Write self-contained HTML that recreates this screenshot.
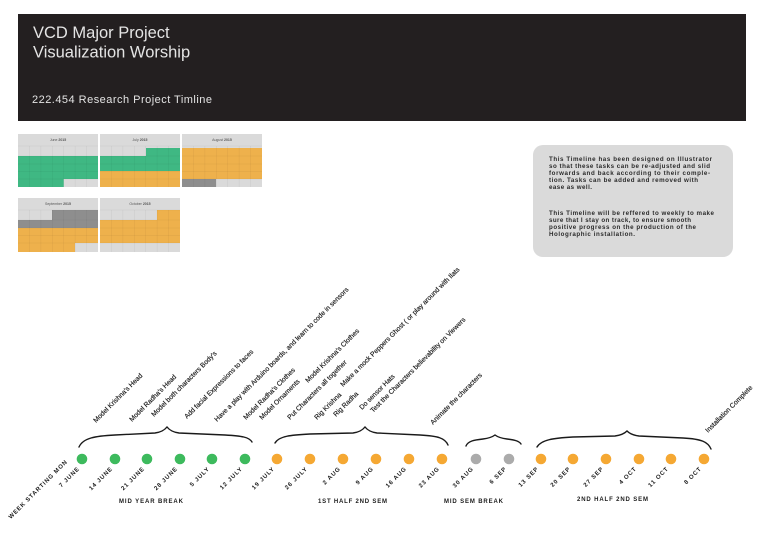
<!DOCTYPE html>
<html><head><meta charset="utf-8"><style>
html,body{margin:0;padding:0;background:#fff;}
svg{display:block;}
text{font-family:"Liberation Sans",Arial,sans-serif;}
</style></head><body>
<svg width="768" height="543" viewBox="0 0 768 543" xmlns="http://www.w3.org/2000/svg">
<rect width="768" height="543" fill="#fff"/>
<!-- header -->
<rect x="18" y="14" width="728" height="107" fill="#231f20"/>
<text x="33" y="38" font-size="16.5" fill="#e4e4e4">VCD Major Project</text>
<text x="33" y="57.5" font-size="16.5" fill="#e4e4e4">Visualization Worship</text>
<text x="32" y="103" font-size="11" fill="#e4e4e4" textLength="180" lengthAdjust="spacing">222.454  Research Project Timline</text>

<!-- calendars -->
<g>
<rect x="18" y="134" width="80" height="53" fill="#dadada"/>
<rect x="18" y="156" width="80" height="23" fill="#3fb883"/>
<rect x="18" y="179" width="45.7" height="8" fill="#3fb883"/>
<rect x="100" y="134" width="80" height="53" fill="#dadada"/>
<rect x="146" y="148" width="34" height="8" fill="#3fb883"/>
<rect x="100" y="156" width="80" height="15" fill="#3fb883"/>
<rect x="100" y="171" width="80" height="16" fill="#eeb14c"/>
<rect x="182" y="134" width="80" height="53" fill="#dadada"/>
<rect x="182" y="148" width="80" height="31" fill="#eeb14c"/>
<rect x="182" y="179" width="34" height="8" fill="#8e8e8e"/>
<rect x="18" y="198" width="80" height="54" fill="#dadada"/>
<rect x="52" y="210" width="46" height="10" fill="#8e8e8e"/>
<rect x="18" y="220" width="80" height="8" fill="#8e8e8e"/>
<rect x="18" y="228" width="80" height="15" fill="#eeb14c"/>
<rect x="18" y="243" width="57" height="9" fill="#eeb14c"/>
<rect x="100" y="198" width="80" height="54" fill="#dadada"/>
<rect x="157" y="210" width="23" height="10" fill="#eeb14c"/>
<rect x="100" y="220" width="80" height="23" fill="#eeb14c"/>
<g stroke="#000" stroke-opacity="0.07" stroke-width="0.5">
<path d="M18 146H98M18 156H98M18 164H98M18 171.5H98M18 179H98"/>
<path d="M100 146H180M100 156H180M100 164H180M100 171.5H180M100 179H180"/>
<path d="M182 146H262M182 156H262M182 164H262M182 171.5H262M182 179H262"/>
<path d="M18 210H98M18 220H98M18 228H98M18 235.5H98M18 243H98"/>
<path d="M100 210H180M100 220H180M100 228H180M100 235.5H180M100 243H180"/>
<path d="M29.4 146V187M40.9 146V187M52.3 146V187M63.7 146V187M75.1 146V187M86.6 146V187"/>
<path d="M111.4 146V187M122.9 146V187M134.3 146V187M145.7 146V187M157.1 146V187M168.6 146V187"/>
<path d="M193.4 146V187M204.9 146V187M216.3 146V187M227.7 146V187M239.1 146V187M250.6 146V187"/>
<path d="M29.4 210V252M40.9 210V252M52.3 210V252M63.7 210V252M75.1 210V252M86.6 210V252"/>
<path d="M111.4 210V252M122.9 210V252M134.3 210V252M145.7 210V252M157.1 210V252M168.6 210V252"/>
</g>
<g font-size="3.5" fill="#555" text-anchor="middle">
<text x="58" y="141">June <tspan font-weight="bold">2015</tspan></text>
<text x="140" y="141">July <tspan font-weight="bold">2015</tspan></text>
<text x="222" y="141">August <tspan font-weight="bold">2015</tspan></text>
<text x="58" y="205">September <tspan font-weight="bold">2015</tspan></text>
<text x="140" y="205">October <tspan font-weight="bold">2015</tspan></text>
</g>
</g>

<!-- info box -->
<rect x="533" y="145" width="200" height="112" rx="10" ry="10" fill="#dadada"/>
<g font-size="6.2" font-weight="bold" fill="#2a2a2a">
<text x="549" y="161" textLength="163" lengthAdjust="spacing">This Timeline has been designed on Illustrator</text>
<text x="549" y="168" textLength="161" lengthAdjust="spacing">so that these tasks can be re-adjusted and slid</text>
<text x="549" y="175" textLength="161" lengthAdjust="spacing">forwards and back according to their comple-</text>
<text x="549" y="182" textLength="149" lengthAdjust="spacing">tion. Tasks can be added and removed with</text>
<text x="549" y="189" textLength="43" lengthAdjust="spacing">ease as well.</text>
<text x="549" y="215" textLength="165" lengthAdjust="spacing">This Timeline will be reffered to weekly to make</text>
<text x="549" y="222" textLength="142" lengthAdjust="spacing">sure that I stay on track, to ensure smooth</text>
<text x="549" y="229" textLength="147" lengthAdjust="spacing">positive progress on the production of the</text>
<text x="549" y="236" textLength="86" lengthAdjust="spacing">Holographic installation.</text>
</g>

<!-- task labels -->
<g font-size="6.8" fill="#1c1c1c" stroke="#1c1c1c" stroke-width="0.18">
<text transform="translate(96,423) rotate(-45)">Model Krishna's Head</text>
<text transform="translate(132,422) rotate(-45)">Model Radha's Head</text>
<text transform="translate(154,417) rotate(-45)">Model both characters Body's</text>
<text transform="translate(187,419) rotate(-45)">Add facial Expressions to faces</text>
<text transform="translate(217,422) rotate(-45)">Have a play with Arduino boards, and learn to code in sensors</text>
<text transform="translate(246,420) rotate(-45)">Model Radha's Clothes</text>
<text transform="translate(262,420) rotate(-45)">Model Ornaments</text>
<text transform="translate(308,383) rotate(-45)">Model Krishna's Clothes</text>
<text transform="translate(290,420) rotate(-45)">Put Characters all together</text>
<text transform="translate(317,420) rotate(-45)">Rig Krishna</text>
<text transform="translate(343,387) rotate(-45)">Make a mock Peppers Ghost ( or play around with Ilats</text>
<text transform="translate(336,417) rotate(-45)">Rig Radha</text>
<text transform="translate(362,410) rotate(-45)">Do sensor Hats</text>
<text transform="translate(373,413) rotate(-45)">Test the Characters believability on Viewers</text>
<text transform="translate(433,425) rotate(-45)">Animate the characters</text>
<text transform="translate(708,433) rotate(-45)">Installation Complete</text>
</g>

<!-- braces -->
<g fill="none" stroke="#1a1a1a" stroke-width="1.4" stroke-linecap="round">
<path d="M79 447 C83 438, 95 436, 115 435 L155 433 Q163 432 167 427 Q171 432 179 433 L225 435 C242 436, 249 437, 252 442"/>
<path d="M275 443 C279 436, 291 435, 310 434 L353 433 Q361 432 365 427 Q369 432 377 433 L420 435 C438 436, 445 438, 448 445"/>
<path d="M466 446 C468 441, 474 440, 483 439 Q491 438 495 435 Q499 438 507 439 C515 440, 519 441, 521 444"/>
<path d="M537 447 C541 440, 553 438, 573 437 L615 436 Q623 435 627 431 Q631 435 639 436 L683 438 C702 439, 708 442, 711 449"/>
</g>

<!-- dots -->
<g>
<circle cx="82" cy="459" r="5.3" fill="#3dba5d"/>
<circle cx="115" cy="459" r="5.3" fill="#3dba5d"/>
<circle cx="147" cy="459" r="5.3" fill="#3dba5d"/>
<circle cx="180" cy="459" r="5.3" fill="#3dba5d"/>
<circle cx="212" cy="459" r="5.3" fill="#3dba5d"/>
<circle cx="245" cy="459" r="5.3" fill="#3dba5d"/>
<circle cx="277" cy="459" r="5.3" fill="#f5a833"/>
<circle cx="310" cy="459" r="5.3" fill="#f5a833"/>
<circle cx="343" cy="459" r="5.3" fill="#f5a833"/>
<circle cx="376" cy="459" r="5.3" fill="#f5a833"/>
<circle cx="409" cy="459" r="5.3" fill="#f5a833"/>
<circle cx="442" cy="459" r="5.3" fill="#f5a833"/>
<circle cx="476" cy="459" r="5.3" fill="#ababab"/>
<circle cx="509" cy="459" r="5.3" fill="#ababab"/>
<circle cx="541" cy="459" r="5.3" fill="#f5a833"/>
<circle cx="573" cy="459" r="5.3" fill="#f5a833"/>
<circle cx="606" cy="459" r="5.3" fill="#f5a833"/>
<circle cx="639" cy="459" r="5.3" fill="#f5a833"/>
<circle cx="671" cy="459" r="5.3" fill="#f5a833"/>
<circle cx="704" cy="459" r="5.3" fill="#f5a833"/>
</g>

<!-- date labels -->
<g font-size="6" font-weight="bold" fill="#1c1c1c" letter-spacing="0.9" text-anchor="end">
<text transform="translate(68,462) rotate(-45)">WEEK STARTING MON</text>
<text transform="translate(80,469) rotate(-45)">7 JUNE</text>
<text transform="translate(113,469) rotate(-45)">14 JUNE</text>
<text transform="translate(145,469) rotate(-45)">21 JUNE</text>
<text transform="translate(178,469) rotate(-45)">28 JUNE</text>
<text transform="translate(210,469) rotate(-45)">5 JULY</text>
<text transform="translate(243,469) rotate(-45)">12 JULY</text>
<text transform="translate(275,469) rotate(-45)">19 JULY</text>
<text transform="translate(308,469) rotate(-45)">26 JULY</text>
<text transform="translate(341,469) rotate(-45)">2 AUG</text>
<text transform="translate(374,469) rotate(-45)">9 AUG</text>
<text transform="translate(407,469) rotate(-45)">16 AUG</text>
<text transform="translate(440,469) rotate(-45)">23 AUG</text>
<text transform="translate(474,469) rotate(-45)">30 AUG</text>
<text transform="translate(507,469) rotate(-45)">6 SEP</text>
<text transform="translate(539,469) rotate(-45)">13 SEP</text>
<text transform="translate(571,469) rotate(-45)">20 SEP</text>
<text transform="translate(604,469) rotate(-45)">27 SEP</text>
<text transform="translate(637,469) rotate(-45)">4 OCT</text>
<text transform="translate(669,469) rotate(-45)">11 OCT</text>
<text transform="translate(702,469) rotate(-45)">8 OCT</text>
</g>

<!-- section labels -->
<g font-size="6" font-weight="bold" fill="#1c1c1c">
<text x="119" y="503" textLength="64" lengthAdjust="spacing">MID YEAR BREAK</text>
<text x="318" y="503" textLength="69" lengthAdjust="spacing">1ST HALF 2ND SEM</text>
<text x="444" y="503" textLength="59" lengthAdjust="spacing">MID SEM BREAK</text>
<text x="577" y="501" textLength="71" lengthAdjust="spacing">2ND HALF 2ND SEM</text>
</g>
</svg>
</body></html>
